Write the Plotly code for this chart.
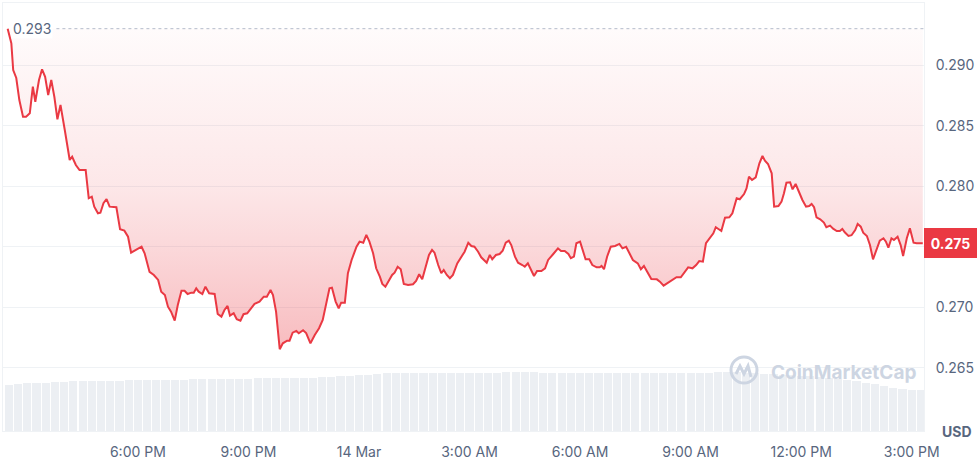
import pandas as pd
import plotly.graph_objects as go

# ---- data -------------------------------------------------------------
start = pd.Timestamp("2024-03-13 14:00")
open_price = 0.293
last_price = 0.27529

# minutes after 13 Mar 14:00
price_minutes = [
    28, 34, 37, 42, 47, 53, 58, 64, 69, 73, 79, 84, 89, 94, 99, 104, 109, 114, 121, 129,
    133, 139, 145, 155, 160, 165, 169, 175, 179, 184, 189, 194, 205, 211, 218, 224, 229, 237, 246, 251,
    259, 266, 273, 278, 284, 289, 294, 300, 305, 311, 316, 321, 327, 331, 335, 339, 345, 350, 356, 365,
    370, 376, 381, 386, 390, 396, 401, 407, 412, 418, 423, 430, 438, 445, 450, 456, 460, 465, 471, 476,
    483, 487, 492, 498, 502, 509, 514, 521, 528, 535, 541, 547, 552, 556, 562, 567, 571, 577, 582, 588,
    596, 601, 607, 612, 617, 623, 628, 634, 638, 643, 649, 654, 658, 663, 668, 673, 680, 688, 693, 698,
    703, 709, 714, 719, 723, 729, 734, 738, 743, 748, 753, 760, 767, 772, 778, 783, 788, 794, 799, 808,
    813, 817, 823, 829, 834, 839, 844, 848, 854, 859, 866, 870, 875, 880, 885, 890, 897, 903, 908, 916,
    924, 929, 935, 941, 945, 950, 954, 960, 964, 969, 975, 980, 987, 992, 995, 999, 1004, 1010, 1017, 1024,
    1029, 1035, 1041, 1046, 1054, 1059, 1064, 1070, 1076, 1085, 1090, 1096, 1103, 1111, 1117, 1124, 1130, 1136, 1143, 1149,
    1154, 1160, 1165, 1171, 1177, 1181, 1187, 1190, 1196, 1203, 1208, 1215, 1220, 1227, 1231, 1235, 1240, 1246, 1252, 1257,
    1261, 1266, 1272, 1276, 1283, 1288, 1292, 1296, 1302, 1306, 1311, 1317, 1322, 1328, 1333, 1337, 1341, 1345, 1351, 1357,
    1361, 1367, 1372, 1378, 1383, 1387, 1391, 1397, 1402, 1408, 1412, 1417, 1421, 1427, 1432, 1437, 1443, 1448, 1454, 1458,
    1462, 1467, 1471, 1477, 1482, 1486, 1492, 1497, 1503, 1508, 1518,
]

prices = [
    0.29299, 0.29179, 0.28959, 0.28893, 0.28711, 0.28573, 0.28573, 0.28601, 0.28821, 0.28697,
    0.28876, 0.28965, 0.28903, 0.28752, 0.28876, 0.28738, 0.28552, 0.28670, 0.28464, 0.28216,
    0.28243, 0.28175, 0.28133, 0.28133, 0.27900, 0.27913, 0.27831, 0.27776, 0.27781, 0.27859,
    0.27894, 0.27831, 0.27826, 0.27644, 0.27633, 0.27583, 0.27451, 0.27473, 0.27500, 0.27446,
    0.27292, 0.27267, 0.27226, 0.27129, 0.27102, 0.27005, 0.26964, 0.26890, 0.27019, 0.27137,
    0.27137, 0.27110, 0.27121, 0.27121, 0.27157, 0.27129, 0.27110, 0.27170, 0.27116, 0.27110,
    0.26945, 0.26923, 0.26978, 0.27011, 0.26931, 0.26951, 0.26901, 0.26890, 0.26943, 0.26951,
    0.26984, 0.27028, 0.27047, 0.27088, 0.27088, 0.27143, 0.27102, 0.26964, 0.26654, 0.26703,
    0.26725, 0.26725, 0.26791, 0.26805, 0.26786, 0.26811, 0.26788, 0.26703, 0.26772, 0.26827,
    0.26896, 0.27047, 0.27157, 0.27162, 0.27047, 0.26992, 0.27038, 0.27038, 0.27281, 0.27391,
    0.27500, 0.27542, 0.27533, 0.27597, 0.27542, 0.27446, 0.27322, 0.27253, 0.27193, 0.27170,
    0.27220, 0.27267, 0.27286, 0.27335, 0.27314, 0.27193, 0.27184, 0.27190, 0.27217, 0.27273,
    0.27231, 0.27341, 0.27432, 0.27473, 0.27451, 0.27349, 0.27281, 0.27308, 0.27267, 0.27240,
    0.27267, 0.27363, 0.27418, 0.27459, 0.27533, 0.27506, 0.27500, 0.27459, 0.27413, 0.27368,
    0.27432, 0.27396, 0.27432, 0.27440, 0.27467, 0.27533, 0.27550, 0.27514, 0.27418, 0.27368,
    0.27349, 0.27335, 0.27363, 0.27308, 0.27259, 0.27300, 0.27300, 0.27322, 0.27391, 0.27438,
    0.27487, 0.27465, 0.27465, 0.27440, 0.27405, 0.27418, 0.27529, 0.27542, 0.27473, 0.27396,
    0.27396, 0.27349, 0.27330, 0.27330, 0.27341, 0.27314, 0.27418, 0.27500, 0.27506, 0.27523,
    0.27487, 0.27500, 0.27440, 0.27391, 0.27363, 0.27314, 0.27341, 0.27281, 0.27234, 0.27231,
    0.27212, 0.27179, 0.27203, 0.27234, 0.27248, 0.27248, 0.27294, 0.27330, 0.27322, 0.27349,
    0.27382, 0.27377, 0.27529, 0.27570, 0.27611, 0.27661, 0.27638, 0.27630, 0.27740, 0.27743,
    0.27776, 0.27900, 0.27892, 0.27935, 0.27982, 0.28078, 0.28051, 0.28073, 0.28189, 0.28249,
    0.28210, 0.28183, 0.28106, 0.27831, 0.27836, 0.27872, 0.27941, 0.28029, 0.28032, 0.27974,
    0.28018, 0.27941, 0.27886, 0.27831, 0.27836, 0.27853, 0.27826, 0.27743, 0.27727, 0.27699,
    0.27661, 0.27674, 0.27649, 0.27630, 0.27630, 0.27647, 0.27619, 0.27589, 0.27595, 0.27638,
    0.27688, 0.27666, 0.27616, 0.27589, 0.27514, 0.27396, 0.27479, 0.27550, 0.27570, 0.27542,
    0.27492, 0.27570, 0.27556, 0.27583, 0.27514, 0.27424, 0.27570, 0.27652, 0.27533, 0.27529,
    0.27529,
]

# volume bars, one every 15 minutes starting 14:30 (values in millions USD)
volume_start_minute = 30
volume_step_minutes = 15
volumes = [
    186, 190, 192, 194, 194, 196, 198, 200, 200, 200,
    202, 202, 202, 204, 204, 204, 204, 206, 206, 206,
    208, 208, 208, 208, 208, 210, 210, 212, 212, 212,
    214, 214, 214, 214, 216, 216, 220, 220, 224, 224,
    228, 234, 234, 234, 234, 234, 234, 234, 234, 234,
    234, 234, 234, 234, 238, 238, 236, 236, 234, 234,
    234, 234, 234, 234, 234, 234, 234, 234, 234, 234,
    234, 234, 234, 234, 234, 234, 234, 236, 236, 236,
    234, 232, 230, 228, 226, 224, 222, 220, 216, 214,
    210, 206, 200, 194, 188, 182, 174, 168, 166, 164,
]

y_ticks = [0.265, 0.270, 0.275, 0.280, 0.285, 0.290]
x_tick_hours = [18, 21, 24, 27, 30, 33, 36, 39]
x_tick_labels = ["6:00 PM", "9:00 PM", "14 Mar", "3:00 AM", "6:00 AM", "9:00 AM", "12:00 PM", "3:00 PM"]

# ---- build ------------------------------------------------------------
price_times = [start + pd.Timedelta(minutes=m) for m in price_minutes]
vol_times = [start + pd.Timedelta(minutes=volume_start_minute + i * volume_step_minutes)
             for i in range(len(volumes))]
day0 = pd.Timestamp("2024-03-13")
tick_vals = [day0 + pd.Timedelta(hours=h) for h in x_tick_hours]
# the 0.275 level is labelled by the last-price tag instead of a tick label
y_tick_text = ["" if abs(v - round(last_price, 3)) < 1e-9 else f"{v:.3f}" for v in y_ticks]

RED = "#ea3943"
GRAY = "#58667e"
GRID = "#eff2f5"
FONT = "Inter, Roboto, sans-serif"

fig = go.Figure()

fig.add_trace(go.Bar(
    x=vol_times, y=volumes, yaxis="y2",
    marker=dict(color="#eceff3", line=dict(width=0)),
    width=volume_step_minutes * 60 * 1000 * 0.88,
    hoverinfo="skip", showlegend=False,
))

fig.add_trace(go.Scatter(
    x=price_times, y=[open_price] * len(price_times),
    mode="lines", line=dict(width=0, color="rgba(0,0,0,0)"),
    hoverinfo="skip", showlegend=False,
))

fig.add_trace(go.Scatter(
    x=price_times, y=prices, mode="lines",
    line=dict(color=RED, width=2),
    fill="tonexty",
    fillgradient=dict(
        type="vertical",
        start=min(prices), stop=open_price,
        colorscale=[
            [0.0, "rgba(234,57,67,0.34)"],
            [0.31, "rgba(234,57,67,0.20)"],
            [0.51, "rgba(234,57,67,0.12)"],
            [1.0, "rgba(234,57,67,0.02)"],
        ],
    ),
    showlegend=False,
))

fig.update_layout(
    width=980, height=463,
    margin=dict(l=3, r=56, t=3, b=32),
    paper_bgcolor="white", plot_bgcolor="white",
    font=dict(family=FONT, color=GRAY, size=14),
    bargap=0,
    xaxis=dict(
        type="date",
        range=[start + pd.Timedelta(minutes=20.4), start + pd.Timedelta(minutes=1520)],
        tickvals=tick_vals, ticktext=x_tick_labels,
        showgrid=False, zeroline=False,
        showline=True, mirror=True, linecolor=GRID, linewidth=1,
        ticks="outside", ticklen=8, tickcolor="rgba(0,0,0,0)",
        tickfont=dict(size=14, color=GRAY, family=FONT),
    ),
    yaxis=dict(
        side="right",
        range=[0.25979, 0.29512],
        tickvals=y_ticks, ticktext=y_tick_text,
        showgrid=True, gridcolor=GRID, gridwidth=1,
        zeroline=False,
        showline=True, mirror=True, linecolor=GRID, linewidth=1,
        ticks="outside", ticklen=8, tickcolor="rgba(0,0,0,0)",
        tickfont=dict(size=14, color=GRAY, family=FONT),
    ),
    yaxis2=dict(overlaying="y", range=[0, 1712], visible=False),
)

# dotted open-price reference line
fig.add_shape(type="line", xref="paper", yref="y",
              x0=0.058, x1=1.0, y0=open_price, y1=open_price,
              line=dict(color="#b4bccb", width=1, dash="dot"), layer="above")

# open-price label
fig.add_annotation(xref="paper", yref="y", x=0.0085, y=open_price,
                   text=f"{open_price:.3f}", showarrow=False,
                   xanchor="left", yanchor="middle",
                   font=dict(size=14, color=GRAY, family=FONT),
                   bgcolor="rgba(255,255,255,0.85)", borderpad=1)

# last price tag
fig.add_annotation(xref="paper", yref="y", x=1.0, y=last_price,
                   text=f"<b>{last_price:.3f}</b>", showarrow=False,
                   xanchor="left", yanchor="middle",
                   font=dict(size=14, color="white", family=FONT),
                   bgcolor=RED, bordercolor=RED, borderwidth=1,
                   width=49, height=26, borderpad=1)

# currency label
fig.add_annotation(xref="paper", yref="paper", x=1.0, y=0.0, xshift=16,
                   text="<b>USD</b>", showarrow=False,
                   xanchor="left", yanchor="middle",
                   font=dict(size=14, color=GRAY, family=FONT))

# watermark
WM = "#cdd5e2"
fig.add_shape(type="circle", xref="paper", yref="paper",
              x0=(731 - 3) / 921, x1=(757 - 3) / 921,
              y0=(431 - 383) / 428, y1=(431 - 357) / 428,
              line=dict(color=WM, width=3), layer="above")
fig.add_shape(type="path", xref="paper", yref="paper",
              path="M {a},{b} L {c},{d} L {e},{f} L {g},{h} L {i},{j}".format(
                  a=(736 - 3) / 921, b=(431 - 374) / 428,
                  c=(740 - 3) / 921, d=(431 - 366) / 428,
                  e=(744 - 3) / 921, f=(431 - 374) / 428,
                  g=(748 - 3) / 921, h=(431 - 366) / 428,
                  i=(751 - 3) / 921, j=(431 - 377) / 428),
              line=dict(color=WM, width=3), layer="above")
fig.add_annotation(xref="paper", yref="paper", x=(769 - 3) / 921, y=(431 - 372) / 428,
                   text="<b>CoinMarketCap</b>", showarrow=False,
                   xanchor="left", yanchor="middle",
                   font=dict(size=19, color=WM, family=FONT))

fig.write_html("out.html",
               config={"displayModeBar": False},
               post_script="document.body.style.margin='0px';document.body.style.overflow='hidden';")
